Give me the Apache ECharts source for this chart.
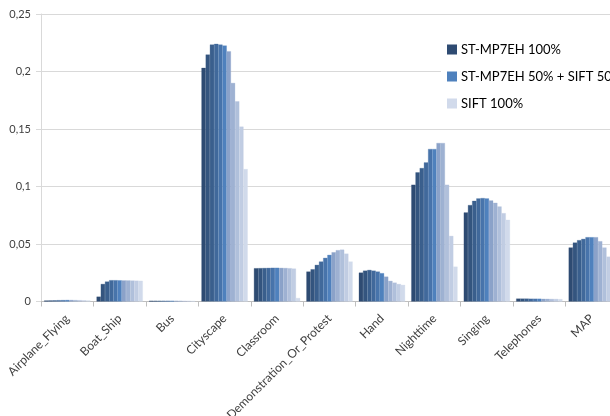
<!DOCTYPE html>
<html>
<head>
<meta charset="utf-8">
<script src="https://cdn.jsdelivr.net/npm/echarts@6/dist/echarts.min.js"></script>
<style>
  html, body { margin: 0; padding: 0; background: #ffffff; }
  #chart { width: 610px; height: 416px; }
</style>
</head>
<body>
<div id="chart"></div>
<script>
// Concept categories on the x axis
const categories = ['Airplane_Flying', 'Boat_Ship', 'Bus', 'Cityscape', 'Classroom',
  'Demonstration_Or_Protest', 'Hand', 'Nighttime', 'Singing', 'Telephones', 'MAP'];

// Fusion weights, from pure ST-MP7EH down to pure SIFT
const seriesNames = ['ST-MP7EH 100%', 'ST-MP7EH 90% + SIFT 10%', 'ST-MP7EH 80% + SIFT 20%',
  'ST-MP7EH 70% + SIFT 30%', 'ST-MP7EH 60% + SIFT 40%', 'ST-MP7EH 50% + SIFT 50%',
  'ST-MP7EH 40% + SIFT 60%', 'ST-MP7EH 30% + SIFT 70%', 'ST-MP7EH 20% + SIFT 80%',
  'ST-MP7EH 10% + SIFT 90%', 'SIFT 100%'];

// Only these three appear in the legend
const legendNames = ['ST-MP7EH 100%', 'ST-MP7EH 50% + SIFT 50%', 'SIFT 100%'];

// Average precision per category, one array per weighting
const ap100_0 = [0.0008, 0.0042, 0.0006, 0.2031, 0.0289, 0.0260, 0.0251, 0.1015, 0.0774, 0.0025, 0.0469];
const ap90_10 = [0.0009, 0.0152, 0.0006, 0.2147, 0.0290, 0.0280, 0.0268, 0.1122, 0.0838, 0.0025, 0.0512];
const ap80_20 = [0.0010, 0.0173, 0.0006, 0.2234, 0.0291, 0.0318, 0.0274, 0.1160, 0.0875, 0.0025, 0.0533];
const ap70_30 = [0.0011, 0.0185, 0.0006, 0.2240, 0.0292, 0.0347, 0.0268, 0.1209, 0.0896, 0.0024, 0.0544];
const ap60_40 = [0.0012, 0.0185, 0.0006, 0.2234, 0.0293, 0.0379, 0.0260, 0.1326, 0.0899, 0.0024, 0.0559];
const ap50_50 = [0.0013, 0.0184, 0.0006, 0.2225, 0.0293, 0.0405, 0.0246, 0.1326, 0.0896, 0.0024, 0.0559];
const ap40_60 = [0.0013, 0.0183, 0.0006, 0.2176, 0.0292, 0.0428, 0.0216, 0.1378, 0.0878, 0.0023, 0.0559];
const ap30_70 = [0.0012, 0.0183, 0.0006, 0.1900, 0.0291, 0.0446, 0.0179, 0.1378, 0.0858, 0.0023, 0.0524];
const ap20_80 = [0.0011, 0.0182, 0.0005, 0.1740, 0.0289, 0.0451, 0.0164, 0.1015, 0.0826, 0.0022, 0.0469];
const ap10_90 = [0.0010, 0.0181, 0.0005, 0.1520, 0.0286, 0.0416, 0.0152, 0.0570, 0.0768, 0.0022, 0.0390];
const ap0_100 = [0.0009, 0.0180, 0.0005, 0.1151, 0.0030, 0.0347, 0.0144, 0.0303, 0.0710, 0.0021, 0.0330];

const seriesValues = [ap100_0, ap90_10, ap80_20, ap70_30, ap60_40, ap50_50,
  ap40_60, ap30_70, ap20_80, ap10_90, ap0_100];

// Y axis tick values
const yTicks = [0, 0.05, 0.1, 0.15, 0.2, 0.25];

// Dark navy through mid blue to pale blue-grey
const palette = ['#2E4B72', '#34557F', '#3A5F8D', '#41699B', '#4874AB', '#4F81BD',
  '#8BA2C9', '#9EB1D2', '#B0C0DB', '#C1CDE3', '#D1DAEB'];

const FONT = 'Lato, "Open Sans", sans-serif';

const chart = echarts.init(document.getElementById('chart'), null, { renderer: 'canvas' });

chart.setOption({
  animation: false,
  backgroundColor: '#ffffff',
  textStyle: { fontFamily: FONT },
  grid: {
    left: 41, right: -8, top: 14, bottom: 114.5,
    containLabel: false,
    outerBoundsMode: 'none'
  },
  legend: {
    data: legendNames,
    orient: 'vertical',
    left: 441,
    top: 37,
    padding: [6, 40, 8, 6],
    backgroundColor: '#ffffff',
    itemWidth: 8,
    itemHeight: 8,
    itemGap: 14,
    icon: 'rect',
    textStyle: { fontFamily: FONT, fontSize: 13, color: '#000000' }
  },
  xAxis: {
    type: 'category',
    data: categories,
    boundaryGap: true,
    axisLine: { lineStyle: { color: '#BFBFBF', width: 1 } },
    axisTick: { show: true, length: 5, lineStyle: { color: '#BFBFBF' } },
    axisLabel: {
      interval: 0,
      rotate: 45,
      margin: 15,
      fontFamily: FONT,
      fontSize: 12,
      color: '#404040'
    },
    splitLine: { show: false }
  },
  yAxis: {
    type: 'value',
    min: yTicks[0],
    max: yTicks[yTicks.length - 1],
    interval: 0.05,
    axisLine: { show: true, lineStyle: { color: '#D9D9D9', width: 1 } },
    axisTick: { show: true, inside: false, length: 5, lineStyle: { color: '#D9D9D9' } },
    axisLabel: {
      margin: 10,
      fontFamily: FONT,
      fontSize: 11,
      color: '#404040',
      formatter: function (v) {
        const s = String(Math.round(v * 100) / 100);
        return s.replace('.', ',');
      }
    },
    splitLine: { show: true, lineStyle: { color: '#D9D9D9', width: 1 } }
  },
  series: seriesValues.map(function (vals, i) {
    return {
      name: seriesNames[i],
      type: 'bar',
      data: vals,
      barGap: '0%',
      barCategoryGap: '12%',
      itemStyle: { color: palette[i], borderColor: palette[i], borderWidth: 0.3 },
      emphasis: { disabled: true }
    };
  })
});
</script>
</body>
</html>
